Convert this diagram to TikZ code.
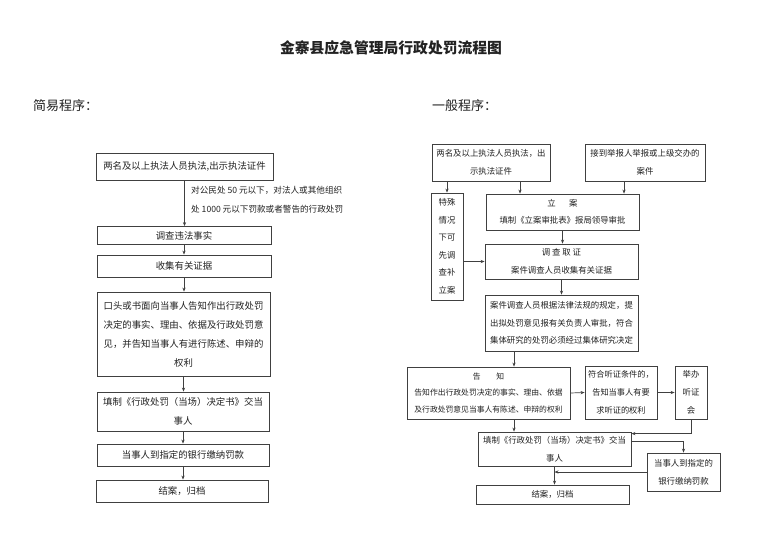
\documentclass[tikz,border=0pt]{standalone}
\usepackage{fontspec}
\setmainfont{Noto Sans CJK SC}
\usetikzlibrary{arrows.meta,calc}
\definecolor{linec}{HTML}{404040}
\definecolor{textc}{HTML}{222222}
\newcommand\leftfs{\fontsize{9.4}{19}\selectfont}
\newcommand\rightfs{\fontsize{8.4}{17.5}\selectfont}
\begin{document}
\begin{tikzpicture}[x=1pt,y=-1pt,
  box/.style={draw=linec, line width=0.8pt, inner sep=0pt, align=center, text=textc},
  lbox/.style={box, font=\leftfs},
  rbox/.style={box, font=\rightfs},
  arr/.style={draw=linec, line width=0.7pt, -{Stealth[length=4pt,width=3.2pt]}},
  lbl/.style={text=textc, inner sep=0pt}
]
\fill[white] (0,0) rectangle (783,554);
\useasboundingbox (0,0) rectangle (783,554);

% titles
\node[lbl, font=\fontsize{14.8}{16}\selectfont\bfseries] (title) at (391,48) {金寨县应急管理局行政处罚流程图};
\node[lbl, font=\fontsize{13}{15}\selectfont, anchor=west] (simple) at (33,106) {简易程序：};
\node[lbl, font=\fontsize{13}{15}\selectfont, anchor=west] (general) at (432,106) {一般程序：};

% left column
\node[lbox, minimum width=177pt, minimum height=27pt] (L1) at (184.5,166.5) {两名及以上执法人员执法,出示执法证件};
\node[lbl, font=\fontsize{8.6}{19}\selectfont, align=left, anchor=west] (note) at (191,199.5) {对公民处 50 元以下，对法人或其他组织\\处 1000 元以下罚款或者警告的行政处罚};
\node[lbox, minimum width=174pt, minimum height=18pt] (L2) at (184,235.5) {调查违法事实};
\node[lbox, minimum width=174pt, minimum height=22pt] (L3) at (184,266) {收集有关证据};
\node[lbox, minimum width=173pt, minimum height=84pt] (L4) at (183.5,334) {口头或书面向当事人告知作出行政处罚\\决定的事实、理由、依据及行政处罚意\\见，并告知当事人有进行陈述、申辩的\\权利};
\node[lbox, minimum width=172pt, minimum height=39pt] (L5) at (183,411.5) {填制《行政处罚（当场）决定书》交当\\事人};
\node[lbox, minimum width=172pt, minimum height=22pt] (L6) at (183,455) {当事人到指定的银行缴纳罚款};
\node[lbox, minimum width=172pt, minimum height=22pt] (L7) at (182,491) {结案，归档};

\draw[arr] (L1.south) -- (L1.south |- L2.north);
\draw[arr] (L2.south) -- (L2.south |- L3.north);
\draw[arr] (L3.south) -- (L3.south |- L4.north);
\draw[arr] (L4.south) -- (L4.south |- L5.north);
\draw[arr] (L5.south) -- (L5.south |- L6.north);
\draw[arr] (L6.south) -- (L6.south |- L7.north);

% right column
\node[rbox, minimum width=118pt, minimum height=37pt] (R1) at (491,162.5) {两名及以上执法人员执法，出\\示执法证件};
\node[rbox, minimum width=120pt, minimum height=37pt] (R2) at (645,162.5) {接到举报人举报或上级交办的\\案件};
\node[rbox, minimum width=32pt, minimum height=107pt] (S) at (447,246.5) {特殊\\情况\\下可\\先调\\查补\\立案};
\node[rbox, minimum width=153pt, minimum height=36pt] (LA) at (562.5,212) {立\hspace{1.6em}案\\填制《立案审批表》报局领导审批};
\node[rbox, minimum width=153pt, minimum height=35pt] (DC) at (561.5,261.5) {调 查 取 证\\案件调查人员收集有关证据};
\node[rbox, minimum width=153pt, minimum height=56pt] (AJ) at (561.5,323) {案件调查人员根据法律法规的规定，提\\出拟处罚意见报有关负责人审批，符合\\集体研究的处罚必须经过集体研究决定};
\node[rbox, minimum width=163pt, minimum height=52pt, font=\fontsize{7.8}{16.5}\selectfont] (GZ) at (488.5,393) {告\hspace{2em}知\\告知作出行政处罚决定的事实、理由、依据\\及行政处罚意见当事人有陈述、申辩的权利};
\node[rbox, minimum width=72pt, minimum height=53pt, font=\fontsize{8.2}{18}\selectfont] (FH) at (621,392.5) {符合听证条件的，\\告知当事人有要\\求听证的权利};
\node[rbox, minimum width=32pt, minimum height=53pt, font=\fontsize{8.4}{18}\selectfont] (JB) at (691,392.5) {举办\\听证\\会};
\node[rbox, minimum width=153pt, minimum height=34pt] (TZ) at (554.5,449) {填制《行政处罚（当场）决定书》交当\\事人};
\node[rbox, minimum width=73pt, minimum height=38pt, font=\fontsize{8.4}{18}\selectfont] (DS) at (683.5,472) {当事人到指定的\\银行缴纳罚款};
\node[rbox, minimum width=153pt, minimum height=19pt] (JA) at (552.5,494.5) {结案，归档};

\draw[arr] (S.north |- R1.south) -- (S.north);
\draw[arr] ([xshift=29pt]R1.south) -- ([xshift=29pt]R1.south |- LA.north);
\draw[arr] ([xshift=-21pt]R2.south) -- ([xshift=-21pt]R2.south |- LA.north);
\draw[arr] (LA.south) -- (LA.south |- DC.north);
\draw[arr] (DC.west -| S.east) -- (DC.west);
\draw[arr] (DC.south) -- (DC.south |- AJ.north);
\draw[arr] ([xshift=25.5pt]GZ.north |- AJ.south) -- ([xshift=25.5pt]GZ.north);
\draw[arr] (GZ.east) -- (FH.west);
\draw[arr] (FH.east) -- (JB.west);
\draw[arr] ([xshift=25.5pt]GZ.south) -- ([xshift=25.5pt]GZ.south |- TZ.north);
\draw[arr] (JB.south) |- ([yshift=-2pt]TZ.north east);
\draw[arr] ([yshift=-10pt]TZ.north east) -| (DS.north);
\draw[arr] (DS.west) -- (DS.west -| TZ.south);
\draw[arr] (TZ.south) -- (TZ.south |- JA.north);
\end{tikzpicture}
\end{document}
